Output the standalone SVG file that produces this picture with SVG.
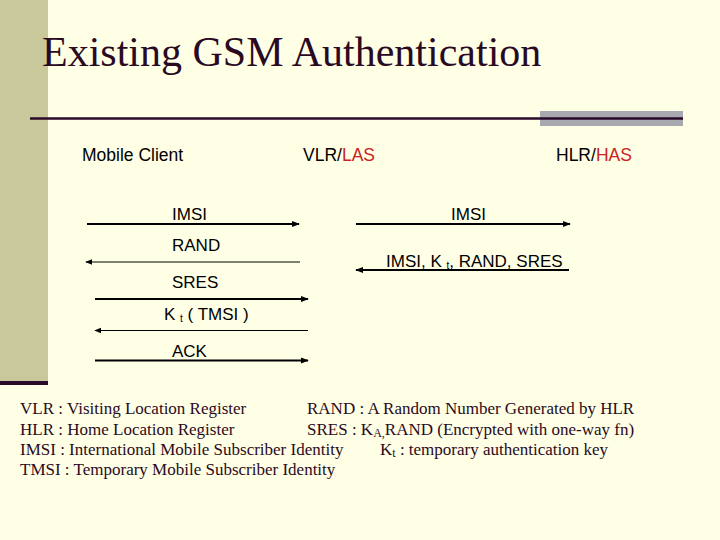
<svg xmlns="http://www.w3.org/2000/svg" width="720" height="540" viewBox="0 0 720 540">
<defs>
<style>
.sans{font-family:"Liberation Sans",Arial,sans-serif;font-size:17.5px;fill:#000}
.lbl{font-size:17px}
.red{fill:#CC2222}
.ser{font-family:"Liberation Serif","Times New Roman",serif;font-size:17px;fill:#2a0a22}
.ln{stroke:#000;fill:none}
.thick{stroke-width:2}
.thin{stroke-width:1.2}
</style>
<marker id="ah" viewBox="0 0 10 10" refX="9" refY="5" markerWidth="4" markerHeight="4" orient="auto" markerUnits="strokeWidth">
<path d="M0,1 L10,5 L0,9 z" fill="#000"/>
</marker>
<marker id="ah2" viewBox="0 0 10 10" refX="9" refY="5" markerWidth="6" markerHeight="6" orient="auto" markerUnits="strokeWidth">
<path d="M0,1 L10,5 L0,9 z" fill="#000"/>
</marker>
</defs>
<rect x="0" y="0" width="720" height="540" fill="#FFFFE6"/>
<rect x="0" y="0" width="48" height="381" fill="#C8C89A"/>
<rect x="0" y="381" width="48" height="4" fill="#2a0a2a"/>
<rect x="540" y="111" width="143" height="15" fill="#A8A8B0"/>
<line x1="30" y1="118.5" x2="683" y2="118.5" stroke="#2a0a2a" stroke-width="2.5"/>
<text x="42" y="66" font-family="Liberation Serif,'Times New Roman',serif" font-size="42" fill="#2a0a22">Existing GSM Authentication</text>

<g id="mobile-client"><text class="sans" x="82" y="161">Mobile Client</text></g>
<g id="vlr-las"><text class="sans" x="303" y="161">VLR/<tspan class="red">LAS</tspan></text></g>
<g id="hlr-has"><text class="sans" x="556" y="161">HLR/<tspan class="red">HAS</tspan></text></g>

<g id="connectors">
<line class="ln thick" x1="87" y1="224" x2="299" y2="224" marker-end="url(#ah)"/>
<text class="sans lbl" x="172" y="220">IMSI</text>
<line class="ln thin" x1="300" y1="262" x2="86" y2="262" marker-end="url(#ah2)"/>
<text class="sans lbl" x="172" y="251">RAND</text>
<line class="ln thick" x1="95" y1="299" x2="308" y2="299" marker-end="url(#ah)"/>
<text class="sans lbl" x="172" y="288">SRES</text>
<line class="ln thin" x1="308" y1="330.5" x2="95" y2="330.5" marker-end="url(#ah2)"/>
<text class="sans lbl" x="164" y="320">K <tspan font-size="10" dy="2">t</tspan><tspan dy="-2"> ( TMSI )</tspan></text>
<line class="ln thick" x1="95" y1="360.5" x2="308" y2="360.5" marker-end="url(#ah)"/>
<text class="sans lbl" x="172" y="357">ACK</text>
<line class="ln thick" x1="356" y1="224" x2="570" y2="224" marker-end="url(#ah)"/>
<text class="sans lbl" x="451" y="220">IMSI</text>
<line class="ln thick" x1="569" y1="270" x2="356" y2="270" marker-end="url(#ah)"/>
<text class="sans lbl" x="386" y="267">IMSI, K <tspan font-size="10" dy="2">t</tspan><tspan dy="-2">, RAND, SRES</tspan></text>
</g>

<g id="legend">
<text class="ser" x="20" y="414">VLR : Visiting Location Register</text>
<text class="ser" x="20" y="435">HLR : Home Location Register</text>
<text class="ser" x="20" y="455">IMSI : International Mobile Subscriber Identity</text>
<text class="ser" x="20" y="475">TMSI : Temporary Mobile Subscriber Identity</text>
<text class="ser" x="307" y="414">RAND : A Random Number Generated by HLR</text>
<text class="ser" x="307" y="435">SRES : K<tspan font-size="12" dy="2">A,</tspan><tspan dy="-2">RAND (Encrypted with one-way fn)</tspan></text>
<text class="ser" x="380" y="455">K<tspan font-size="12" dy="2">t</tspan><tspan dy="-2"> : temporary authentication key</tspan></text>
</g>
</svg>
